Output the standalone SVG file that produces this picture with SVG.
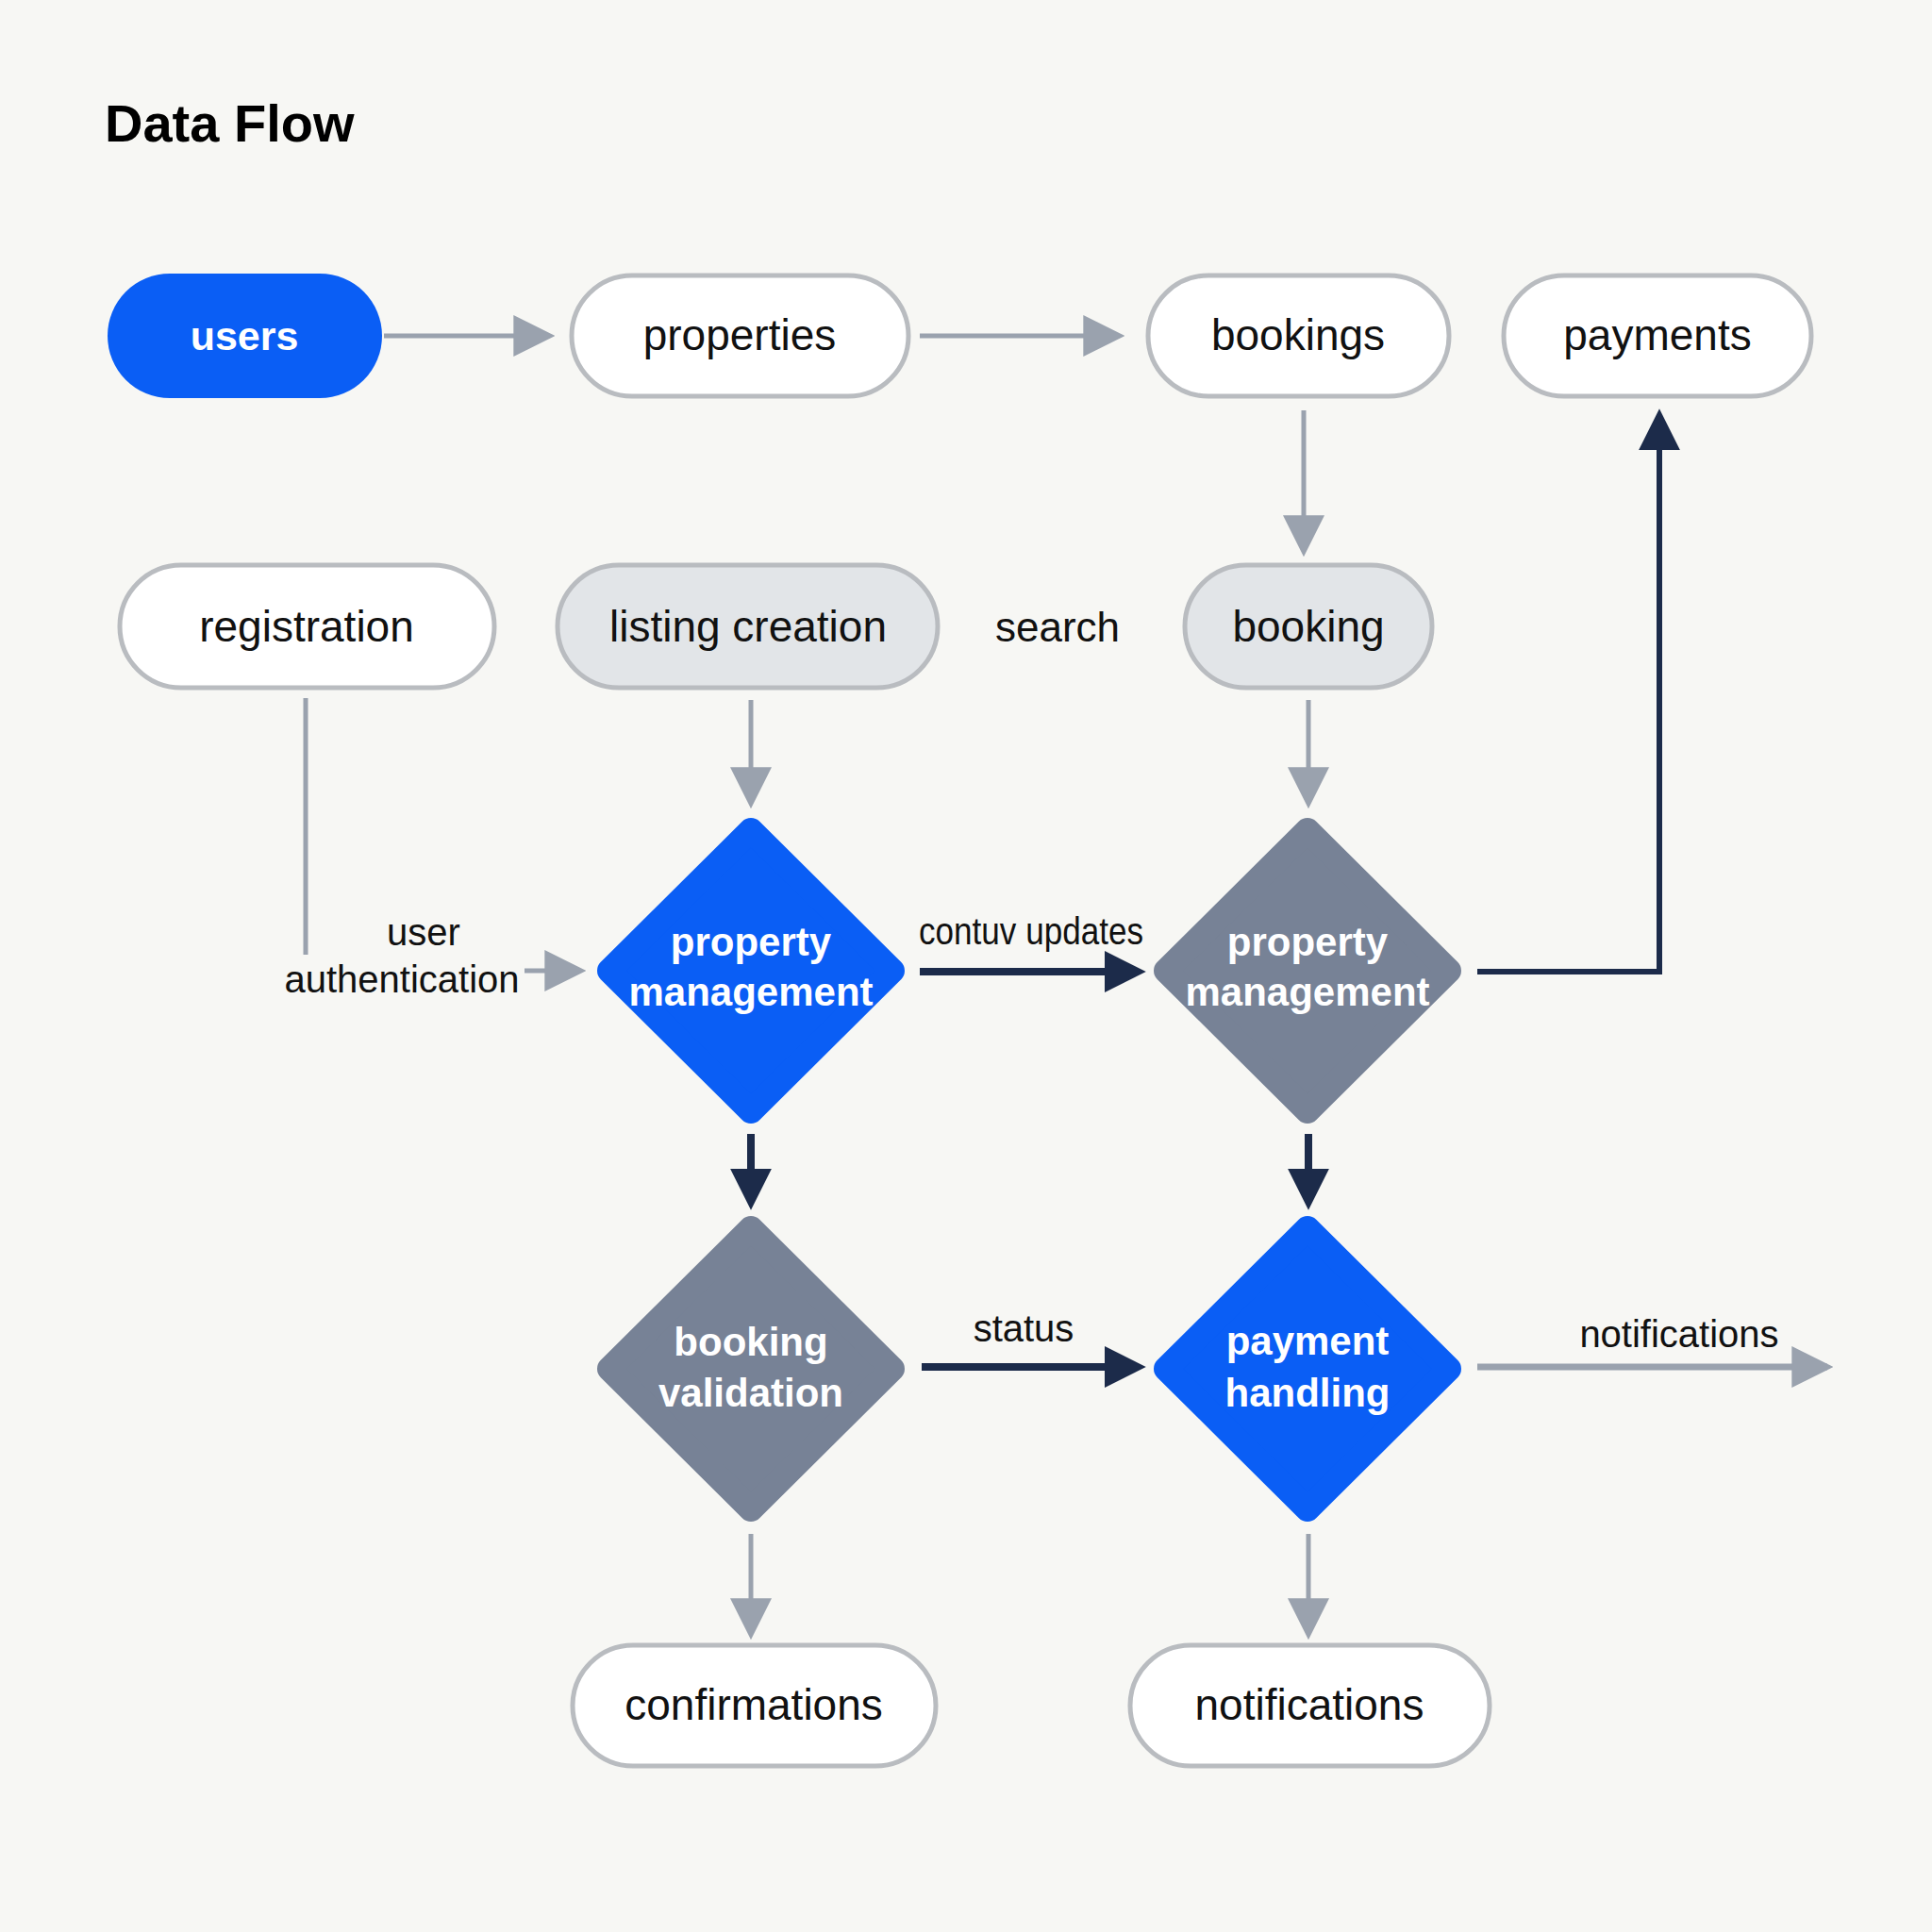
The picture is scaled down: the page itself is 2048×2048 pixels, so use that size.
<svg xmlns="http://www.w3.org/2000/svg" width="2048" height="2048" viewBox="0 0 2048 2048">
<style>
.pill{fill:#ffffff;stroke:#b9bcc0;stroke-width:5}
.pill.shade{fill:#e2e5e8}
.t{font-family:"Liberation Sans",Arial,sans-serif;font-size:46px;fill:#111;text-anchor:middle}
.tw{font-family:"Liberation Sans",Arial,sans-serif;font-size:42px;font-weight:bold;fill:#fff;text-anchor:middle}
.lbl{font-family:"Liberation Sans",Arial,sans-serif;font-size:40px;fill:#111;text-anchor:middle}
.dblue{fill:#0a5ef5;stroke:#0a5ef5;stroke-width:26;stroke-linejoin:round}
.dgray{fill:#778296;stroke:#778296;stroke-width:26;stroke-linejoin:round}
.cg{fill:none;stroke:#9aa2ae;stroke-width:5}
.cn{fill:none;stroke:#1c2b4a;stroke-width:8}
.cn2{fill:none;stroke:#1c2b4a;stroke-width:6}
</style>
<defs>
<marker id="ag" markerUnits="userSpaceOnUse" markerWidth="44" markerHeight="44" viewBox="0 0 42 42" refX="36" refY="21" orient="auto"><path d="M0,0 L42,21 L0,42 z" fill="#9aa2ae"/></marker>
<marker id="an" markerUnits="userSpaceOnUse" markerWidth="44" markerHeight="44" viewBox="0 0 40 40" refX="32" refY="20" orient="auto"><path d="M0,0 L40,20 L0,40 z" fill="#1c2b4a"/></marker>
</defs>
<rect width="2048" height="2048" fill="#f7f7f4"/>
<text x="111" y="150" style="font-family:'Liberation Sans',Arial,sans-serif;font-size:56px;font-weight:bold;fill:#000">Data Flow</text>

<g id="connectors">
<path class="cg" d="M407,356 H582" marker-end="url(#ag)"/>
<path class="cg" d="M975,356 H1186" marker-end="url(#ag)"/>
<path class="cg" d="M1382,435 V584" marker-end="url(#ag)"/>
<path class="cg" d="M324,740 V1029 H615" marker-end="url(#ag)"/>
<path class="cg" d="M796,742 V851" marker-end="url(#ag)"/>
<path class="cg" d="M1387,742 V851" marker-end="url(#ag)"/>
<path class="cn" d="M975,1030 H1206" marker-end="url(#an)"/>
<path class="cn2" d="M1566,1030 H1759 V442" marker-end="url(#an)"/>
<path class="cn" d="M796,1202 V1274" marker-end="url(#an)"/>
<path class="cn" d="M1387,1202 V1274" marker-end="url(#an)"/>
<path class="cn" d="M977,1449 H1206" marker-end="url(#an)"/>
<path class="cg" style="stroke-width:7" d="M1566,1449 H1937" marker-end="url(#ag)"/>
<path class="cg" d="M796,1626 V1732" marker-end="url(#ag)"/>
<path class="cg" d="M1387,1626 V1732" marker-end="url(#ag)"/>
<rect x="294" y="1012" width="262" height="48" fill="#f7f7f4"/>
<text class="lbl" x="449" y="1002">user</text>
<text class="lbl" x="426" y="1052">authentication</text>
<text class="lbl" x="1093" y="1001" textLength="238" lengthAdjust="spacingAndGlyphs">contuv updates</text>
<text class="lbl" x="1085" y="1422">status</text>
<text class="lbl" x="1780" y="1428">notifications</text>
</g>

<g id="users"><rect x="114" y="290" width="291" height="132" rx="66" fill="#0a5ef5"/><text class="tw" x="259" y="371" style="font-size:43px">users</text></g>
<g id="properties"><rect class="pill" x="606" y="292" width="357" height="128" rx="64"/><text class="t" x="784" y="371">properties</text></g>
<g id="bookings"><rect class="pill" x="1217" y="292" width="319" height="128" rx="64"/><text class="t" x="1376" y="371">bookings</text></g>
<g id="payments"><rect class="pill" x="1594" y="292" width="326" height="128" rx="64"/><text class="t" x="1757" y="371">payments</text></g>

<g id="registration"><rect class="pill" x="127" y="599" width="397" height="130" rx="65"/><text class="t" x="325" y="680">registration</text></g>
<g id="listing-creation"><rect class="pill shade" x="591" y="599" width="403" height="130" rx="65"/><text class="t" x="793" y="680">listing creation</text></g>
<g id="search"><text class="t" x="1121" y="680" style="font-size:44px">search</text></g>
<g id="booking"><rect class="pill shade" x="1256" y="599" width="262" height="130" rx="65"/><text class="t" x="1387" y="680">booking</text></g>

<g id="property-management-1"><polygon class="dblue" points="796,880 946,1029 796,1178 646,1029"/><text class="tw" x="796" y="1013">property</text><text class="tw" x="796" y="1066">management</text></g>
<g id="property-management-2"><polygon class="dgray" points="1386,880 1536,1029 1386,1178 1236,1029"/><text class="tw" x="1386" y="1013">property</text><text class="tw" x="1386" y="1066">management</text></g>
<g id="booking-validation"><polygon class="dgray" points="796,1302 946,1451 796,1600 646,1451"/><text class="tw" x="796" y="1437">booking</text><text class="tw" x="796" y="1491">validation</text></g>
<g id="payment-handling"><polygon class="dblue" points="1386,1302 1536,1451 1386,1600 1236,1451"/><text class="tw" x="1386" y="1436">payment</text><text class="tw" x="1386" y="1491">handling</text></g>

<g id="confirmations"><rect class="pill" x="607" y="1744" width="385" height="128" rx="64"/><text class="t" x="799" y="1823">confirmations</text></g>
<g id="notifications"><rect class="pill" x="1198" y="1744" width="381" height="128" rx="64"/><text class="t" x="1388" y="1823">notifications</text></g>
</svg>
